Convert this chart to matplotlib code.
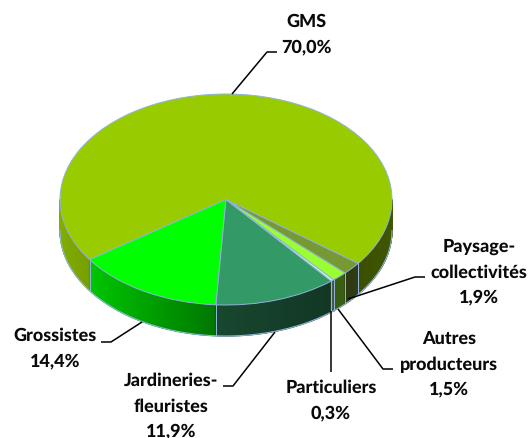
import numpy as np
from matplotlib import pyplot as plt
from matplotlib.colors import to_rgb

plt.rcParams['font.family'] = ['Lato', 'DejaVu Sans']
plt.rcParams['text.hinting'] = 'no_hinting'

### datos
categories = ['GMS', 'Grossistes', 'Jardineries-\nfleuristes', 'Particuliers',
              'Autres\nproducteurs', 'Paysage-\ncollectivités']
values = [70.0, 14.4, 11.9, 0.3, 1.5, 1.9]
value_labels = ['70,0%', '14,4%', '11,9%', '0,3%', '1,5%', '1,9%']
colors = ['#99CC00', '#00FF00', '#339966', '#CCFFCC', '#99FF33', '#779933']

W, H = 531, 439
CX, CY, RX, RY = 226, 200.5, 166, 105.5
DEPTH = 31 / RY
START = -37.3
EDGE = '#8FB4D8'

### posicion de textos y lineas (pixeles)
label_pos = [(306, 22), (55, 336), (171, 381), (331, 388), (449, 339), (479, 247)]
leaders = [
    [(232, 95), (267, 53), (277, 53)],
    [(142, 323), (111, 343), (101, 343)],
    [(275, 333), (233, 387), (223, 387)],
    [(331, 312), (331, 373)],
    [(338, 310), (383, 370), (393, 370)],
    [(348, 300), (415, 278), (425, 278)],
]

fig = plt.figure(figsize=(W / 100, H / 100), dpi=100)
ax = fig.add_axes([0, 0, 1, 1])
ax.pie(values, colors=colors, startangle=START, counterclock=True, radius=1,
       wedgeprops={'edgecolor': EDGE, 'linewidth': 0.7})
ax.set_aspect('auto')
ax.set_xlim(-CX / RX, (W - CX) / RX)
ax.set_ylim((CY - H) / RY, CY / RY)


def shade(x):
    ### luz del lateral: mas claro a la izquierda
    return np.interp(x, [-1, -0.07, 0.63, 1], [0.85, 0.47, 0.36, 0.42])


### lateral del pastel (solo la parte frontal)
angle = START
for value, color in zip(values, colors):
    rgb = np.array(to_rgb(color))
    a1 = angle % 360
    a2 = a1 + value * 3.6
    for lo, hi in [(a1, a2), (a1 - 360, a2 - 360)]:
        lo2, hi2 = max(lo, 180), min(hi, 360)
        if hi2 <= lo2:
            continue
        steps = max(int(hi2 - lo2), 1)
        t = np.radians(np.linspace(lo2, hi2, steps + 1))
        for i in range(steps):
            xs = np.cos(t[i:i + 2])
            ys = np.sin(t[i:i + 2])
            col = rgb * shade(xs.mean())
            ax.fill(np.r_[xs, xs[::-1]], np.r_[ys, ys[::-1] - DEPTH],
                    color=col, linewidth=0.9, zorder=0.5)
        for b in (lo2, hi2):
            if 180 < b < 360:
                r = np.radians(b)
                ax.plot([np.cos(r)] * 2, [np.sin(r), np.sin(r) - DEPTH],
                        color=EDGE, lw=0.7, zorder=0.8)
    angle += value * 3.6

t = np.radians(np.linspace(180, 360, 200))
ax.plot(np.cos(t), np.sin(t) - DEPTH, color=EDGE, lw=0.8, zorder=0.8)

### capa de etiquetas en pixeles
over = fig.add_axes([0, 0, 1, 1])
over.set_xlim(0, W)
over.set_ylim(H, 0)
over.axis('off')

for pts in leaders:
    over.plot([p[0] for p in pts], [p[1] for p in pts], color='black', lw=1.1,
              solid_capstyle='butt')

for cat, val, (x, y) in zip(categories, value_labels, label_pos):
    lines = cat.split('\n') + [val]
    for i, line in enumerate(lines):
        over.text(x, y + i * 25.3, line, ha='center', va='center', fontsize=13,
                  fontweight='black', color='#0a0a0a')

fig.savefig('out.png', dpi=100)
